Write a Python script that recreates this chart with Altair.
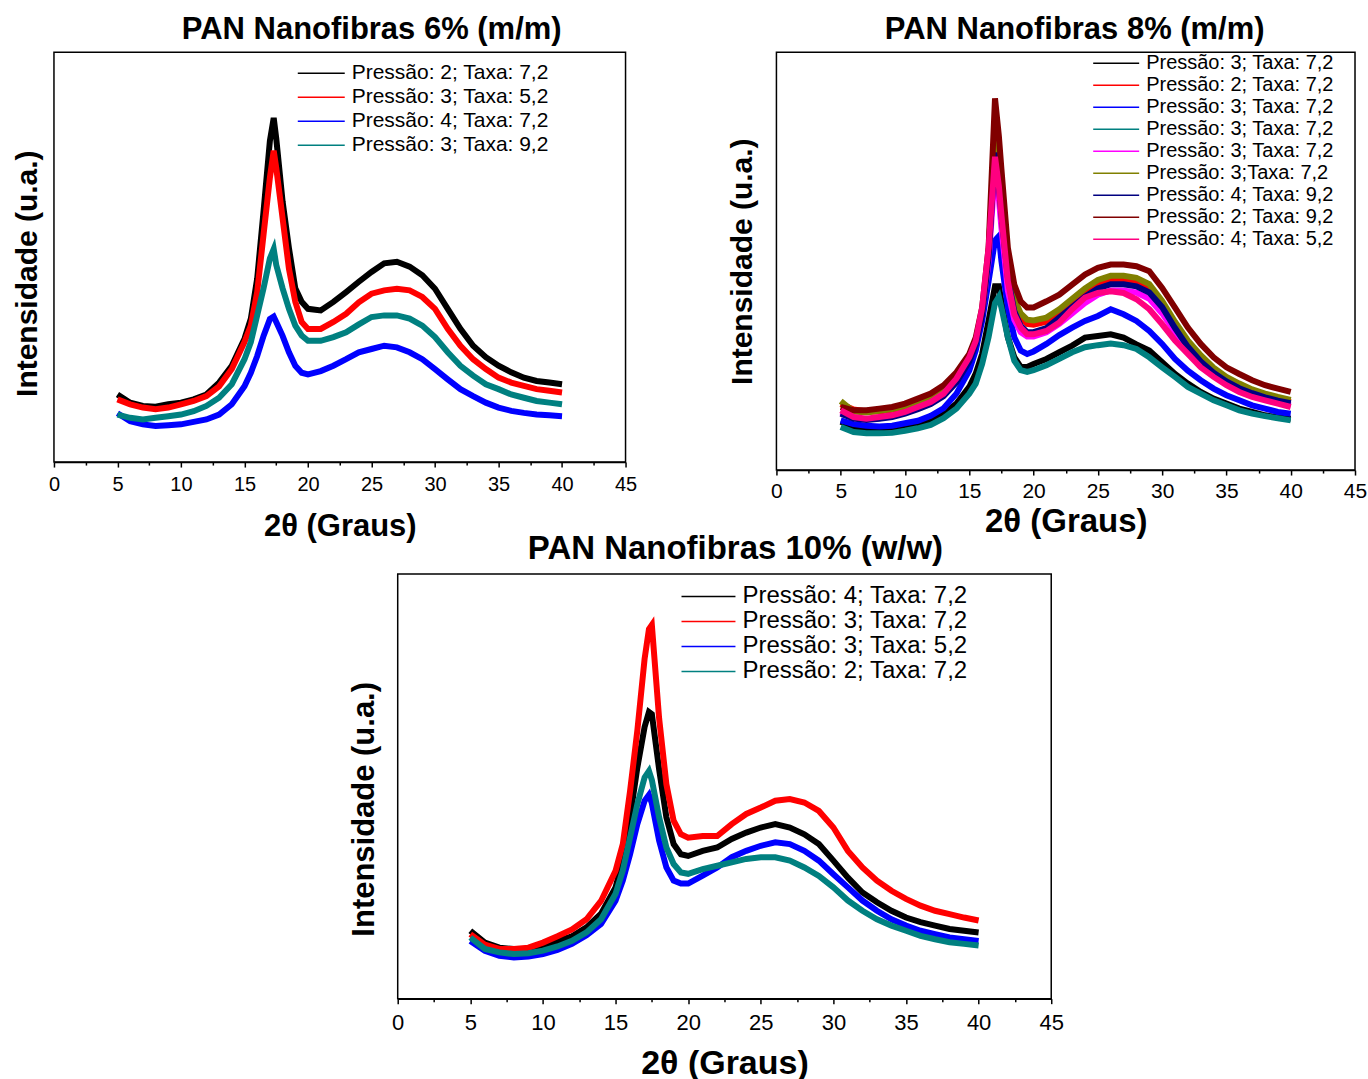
import json
import altair as alt
import pandas as pd

FONT = "Liberation Sans"

# 2-theta sampling positions (degrees)
X = [5, 6, 7, 8, 9, 10, 11, 12, 13, 14, 15,
     15.5, 16, 16.5, 17, 17.3, 17.5, 18, 18.5, 19, 19.5, 20,
     21, 22, 23, 24, 25, 26, 27, 28, 29, 30, 31, 32, 33, 34, 35, 36, 37, 38, 39, 40]

X_TICKS = [0, 2.5, 5, 7.5, 10, 12.5, 15, 17.5, 20, 22.5, 25, 27.5, 30, 32.5, 35, 37.5, 40, 42.5, 45]

# ---------------- Panel 1: 6% ----------------
P1_TITLE = "PAN Nanofibras 6% (m/m)"
P1_LABELS = ["Pressão: 2; Taxa: 7,2", "Pressão: 3; Taxa: 5,2",
             "Pressão: 4; Taxa: 7,2", "Pressão: 3; Taxa: 9,2"]
P1_COLORS = ["#000000", "#ff0000", "#0000ff", "#008080"]
P1_BLACK = [16.5, 14.5, 13.7, 13.5, 14.1, 14.5, 15.3, 16.5, 19.4, 23.5, 30.1,
            35.0, 44.8, 61.2, 78.4, 84.0, 79.0, 63.6, 52.2, 42.4, 39.1, 37.4,
            37.0, 39.1, 41.5, 44.0, 46.4, 48.5, 48.9, 47.7, 45.6, 42.3, 37.4, 32.5, 28.4, 25.6, 23.5, 21.9, 20.6, 19.8, 19.4, 19.0]
P1_RED = [15.3, 14.1, 13.3, 12.9, 13.3, 14.1, 14.9, 16.1, 18.5, 22.7, 29.3,
          33.3, 41.5, 55.5, 69.4, 76.0, 71.8, 59.5, 47.2, 39.1, 34.2, 32.5,
          32.5, 34.2, 36.2, 39.0, 41.1, 41.9, 42.3, 41.9, 40.3, 37.4, 32.5, 28.4, 25.1, 22.7, 20.6, 19.4, 18.6, 17.8, 17.4, 17.0]
P1_BLUE = [11.9, 10.0, 9.2, 8.8, 9.0, 9.2, 9.8, 10.4, 11.6, 14.1, 18.5,
           21.8, 25.9, 30.8, 34.9, 35.5, 34.2, 30.8, 26.8, 23.5, 21.8, 21.4,
           22.2, 23.5, 25.1, 26.8, 27.6, 28.4, 28.0, 26.8, 25.1, 22.7, 20.2, 17.8, 16.1, 14.5, 13.3, 12.5, 12.0, 11.6, 11.4, 11.2]
P1_TEAL = [11.6, 10.8, 10.4, 10.8, 11.2, 11.6, 12.4, 13.7, 15.7, 19.0, 25.1,
           29.3, 35.8, 42.4, 49.7, 52.0, 48.1, 42.4, 37.4, 33.3, 30.9, 29.6,
           29.6, 30.5, 31.7, 33.6, 35.4, 35.8, 35.8, 35.0, 33.3, 30.5, 26.8, 23.5, 21.1, 19.0, 17.8, 16.5, 15.7, 14.9, 14.5, 14.1]

# ---------------- Panel 2: 8% ----------------
P2_TITLE = "PAN Nanofibras 8% (m/m)"
P2_LABELS = ["Pressão: 3; Taxa: 7,2", "Pressão: 2; Taxa: 7,2", "Pressão: 3; Taxa: 7,2",
             "Pressão: 3; Taxa: 7,2", "Pressão: 3; Taxa: 7,2", "Pressão: 3;Taxa: 7,2",
             "Pressão: 4; Taxa: 9,2", "Pressão: 2; Taxa: 9,2", "Pressão: 4; Taxa: 5,2"]
P2_COLORS = ["#000000", "#ff0000", "#0000ff", "#008080", "#ff00ff",
             "#808000", "#000080", "#800000", "#ff0080"]
P2_BLACK = [11.6, 10.4, 10.0, 10.0, 10.2, 10.5, 11.2, 12.0, 13.5, 15.9, 19.9,
            23.1, 27.8, 35.7, 44.0, 44.0, 40.4, 31.8, 27.0, 24.7, 24.7, 25.4,
            26.6, 28.2, 29.8, 31.7, 32.1, 32.5, 31.7, 30.1, 28.6, 25.8, 23.0, 20.7, 18.7, 17.1, 15.9, 14.7, 13.9, 13.1, 12.6, 12.3]
P2_RED = [15.8, 14.5, 14.0, 14.0, 14.4, 15.0, 16.2, 17.4, 19.3, 22.5, 27.0,
          30.8, 37.5, 51.5, 80.0, 72.0, 65.0, 48.5, 40.0, 36.5, 35.0, 34.8,
          35.5, 37.5, 40.0, 42.5, 44.5, 45.5, 45.5, 45.0, 43.5, 39.5, 34.5, 30.0, 26.5, 23.7, 21.6, 20.0, 18.8, 17.8, 17.0, 16.3]
P2_BLUE = [11.9, 11.0, 10.6, 10.4, 10.6, 11.2, 11.8, 13.0, 14.8, 18.3, 23.8,
           28.6, 35.7, 45.2, 55.0, 56.0, 50.0, 38.9, 31.8, 28.6, 27.8, 28.4,
           30.2, 32.3, 34.1, 35.7, 36.9, 38.5, 37.3, 35.7, 33.3, 30.2, 26.6, 23.8, 21.5, 19.5, 17.9, 16.7, 15.5, 14.7, 13.9, 13.5]
P2_TEAL = [10.3, 9.1, 8.8, 8.8, 8.9, 9.4, 10.0, 10.8, 12.4, 14.7, 18.3,
           20.7, 25.4, 31.8, 40.0, 41.5, 38.9, 31.8, 26.2, 23.9, 23.5, 23.9,
           25.1, 26.6, 28.2, 29.4, 29.9, 30.3, 29.9, 29.0, 27.0, 24.6, 22.3, 19.9, 18.3, 16.7, 15.5, 14.3, 13.5, 12.9, 12.4, 11.9]
P2_MAGENTA = [13.8, 12.5, 12.1, 12.4, 12.9, 13.7, 14.8, 16.0, 18.0, 21.5, 26.5,
              30.5, 37.5, 50.0, 72.0, 65.0, 58.0, 43.0, 36.0, 33.0, 32.0, 32.0,
              33.0, 35.0, 37.5, 40.0, 42.0, 43.0, 43.0, 42.5, 41.0, 37.5, 33.0, 29.0, 25.5, 23.0, 21.0, 19.3, 18.0, 17.0, 16.2, 15.5]
P2_OLIVE = [16.5, 14.0, 13.8, 14.2, 14.6, 15.3, 16.5, 17.7, 19.7, 22.8, 27.3,
            31.0, 38.0, 52.0, 80.0, 72.0, 65.0, 50.0, 41.0, 37.5, 36.0, 35.8,
            36.5, 38.5, 41.0, 43.5, 45.5, 46.5, 46.5, 46.0, 44.5, 40.5, 35.5, 31.0, 27.5, 24.5, 22.3, 20.7, 19.3, 18.3, 17.5, 16.8]
P2_NAVY = [13.5, 12.3, 12.0, 12.3, 12.7, 13.5, 14.6, 15.8, 17.7, 21.0, 26.0,
           30.0, 37.0, 51.0, 76.0, 68.0, 61.0, 46.0, 38.0, 34.5, 33.0, 33.0,
           34.0, 36.5, 39.0, 41.5, 43.5, 44.5, 44.5, 44.0, 42.5, 39.0, 34.0, 29.5, 26.0, 23.3, 21.2, 19.6, 18.4, 17.4, 16.6, 16.0]
P2_DARKRED = [15.1, 14.3, 14.3, 14.7, 15.1, 15.9, 17.1, 18.3, 20.3, 23.4, 27.8,
              31.7, 38.9, 53.2, 89.0, 80.0, 72.0, 53.2, 44.4, 40.4, 38.9, 38.9,
              40.4, 42.0, 44.4, 46.8, 48.4, 49.2, 49.2, 48.8, 47.6, 43.6, 38.9, 34.1, 30.2, 27.0, 24.6, 23.0, 21.5, 20.3, 19.5, 18.7]
P2_PINK = [14.3, 12.7, 12.3, 12.7, 13.1, 13.9, 15.1, 16.3, 18.3, 21.9, 27.0,
           30.9, 38.9, 53.2, 75.0, 68.0, 61.0, 45.2, 37.3, 34.1, 32.5, 32.5,
           33.3, 35.3, 38.5, 41.3, 42.4, 42.8, 42.4, 40.9, 38.5, 34.9, 31.0, 27.8, 24.6, 22.3, 20.3, 18.7, 17.5, 16.7, 15.9, 15.1]

# ---------------- Panel 3: 10% ----------------
P3_TITLE = "PAN Nanofibras 10% (w/w)"
P3_LABELS = ["Pressão: 4; Taxa: 7,2", "Pressão: 3; Taxa: 7,2",
             "Pressão: 3; Taxa: 5,2", "Pressão: 2; Taxa: 7,2"]
P3_COLORS = ["#000000", "#ff0000", "#0000ff", "#008080"]
P3_BLACK = [16.0, 13.2, 12.0, 11.7, 11.7, 12.5, 13.6, 14.7, 16.8, 20.0, 26.2,
            32.5, 42.7, 54.4, 64.0, 67.5, 67.0, 54.0, 42.7, 36.4, 34.0, 33.6,
            34.8, 35.6, 37.6, 39.1, 40.3, 41.1, 40.3, 38.7, 36.4, 32.5, 28.5, 25.0, 22.7, 20.7, 19.1, 18.0, 17.2, 16.4, 16.0, 15.6]
P3_RED = [15.2, 12.7, 11.7, 11.7, 12.0, 13.2, 14.7, 16.3, 18.7, 23.0, 30.1,
          36.4, 48.9, 63.1, 80.0, 87.0, 88.0, 66.0, 50.5, 41.9, 38.7, 37.9,
          38.3, 38.3, 41.1, 43.5, 45.0, 46.6, 47.0, 46.2, 44.2, 40.3, 34.8, 30.9, 27.8, 25.4, 23.5, 21.9, 20.7, 19.9, 19.1, 18.4]
P3_BLUE = [13.6, 11.3, 10.1, 9.7, 9.9, 10.5, 11.5, 12.9, 14.9, 17.6, 23.1,
           27.8, 34.0, 41.1, 46.6, 48.0, 46.0, 37.2, 30.9, 27.8, 27.1, 27.1,
           29.0, 30.9, 33.3, 34.8, 36.0, 36.8, 36.4, 34.8, 32.5, 29.3, 26.2, 23.1, 20.7, 18.7, 17.2, 16.0, 15.2, 14.4, 14.0, 13.6]
P3_TEAL = [14.4, 11.7, 10.9, 10.5, 10.7, 11.3, 12.3, 13.6, 15.6, 18.7, 24.7,
           30.2, 38.0, 45.8, 52.1, 53.6, 51.5, 42.7, 35.6, 31.7, 29.7, 29.4,
           30.5, 31.3, 32.1, 32.9, 33.3, 33.3, 32.5, 30.9, 28.9, 26.2, 23.1, 20.7, 18.7, 17.2, 16.0, 14.8, 14.0, 13.3, 12.9, 12.5]


def panel(series, labels, colors, title, w, h, title_size, title_dx, title_offset,
          ytitle_size, ytitle_pad, ytitle_y, xtitle_size, xtitle_pad,
          tick_font, label_pad, legend_x, legend_y, legend_font, legend_row,
          sym_len, line_w):
    rows = []
    for k, ys in enumerate(series):
        for x, y in zip(X, ys):
            rows.append({"x": x, "y": y, "k": k})
    df = pd.DataFrame(rows)
    label_expr = json.dumps(labels, ensure_ascii=False) + "[datum.value]"
    yaxis_kw = dict(title="Intensidade (u.a.)", labels=False, ticks=False, domain=False,
                    grid=False, titleFont=FONT, titleFontSize=ytitle_size,
                    titleFontWeight="bold", titleColor="black", titlePadding=ytitle_pad)
    if ytitle_y is not None:
        yaxis_kw["titleY"] = ytitle_y
    return alt.Chart(df, title=alt.TitleParams(
        title, fontSize=title_size, font=FONT, fontWeight="bold", color="black",
        anchor="middle", dx=title_dx, offset=title_offset)).mark_line(
        strokeWidth=line_w, clip=True).encode(
        x=alt.X("x:Q", scale=alt.Scale(domain=[0, 45], nice=False, zero=False),
                axis=alt.Axis(title="2θ (Graus)", values=X_TICKS,
                              labelExpr="datum.value % 5 === 0 ? datum.label : ''",
                              tickSize={"condition": {"test": "datum.value % 5 === 0", "value": 5}, "value": 3},
                              tickWidth=1.5, tickColor="black", domainColor="black", domainWidth=1.5,
                              grid=False, labelFont=FONT, labelFontSize=tick_font, labelColor="black",
                              labelPadding=label_pad, labelFlush=False, labelOverlap=False,
                              titleFont=FONT, titleFontSize=xtitle_size, titleFontWeight="bold",
                              titleColor="black", titlePadding=xtitle_pad)),
        y=alt.Y("y:Q", scale=alt.Scale(domain=[0, 100], nice=False), axis=alt.Axis(**yaxis_kw)),
        color=alt.Color("k:N", scale=alt.Scale(domain=list(range(len(series))), range=colors),
                        legend=alt.Legend(title=None, orient="none", legendX=legend_x, legendY=legend_y,
                                          labelExpr=label_expr, labelFont=FONT, labelFontSize=legend_font,
                                          labelColor="black", labelLimit=500, labelOffset=6,
                                          symbolType="stroke", symbolSize=sym_len * sym_len,
                                          symbolStrokeWidth=1.5, clipHeight=legend_row, rowPadding=0,
                                          padding=0)),
    ).properties(width=w, height=h)


p1 = panel([P1_BLACK, P1_RED, P1_BLUE, P1_TEAL], P1_LABELS, P1_COLORS, P1_TITLE,
           572, 410, 31, 32, 6, 30, 11, 221, 31, 17, 20, 7, 243, 9, 21, 24, 47, 6)
p2 = panel([P2_BLACK, P2_RED, P2_BLUE, P2_TEAL, P2_MAGENTA, P2_OLIVE, P2_NAVY, P2_DARKRED, P2_PINK],
           P2_LABELS, P2_COLORS, P2_TITLE,
           579, 418, 31, 9, 6, 30, 19, None, 33, 4, 21, 5, 316, 0, 20, 22, 46, 6)
p3 = panel([P3_BLACK, P3_RED, P3_BLUE, P3_TEAL], P3_LABELS, P3_COLORS, P3_TITLE,
           654, 425, 33, 11, 8, 31, 17, 235, 34, 13, 22, 9, 283, 10, 24, 25, 54, 6)

spacer = alt.Chart(pd.DataFrame({"a": [0]})).mark_point(opacity=0).encode(
    x=alt.X("a:Q", axis=None), y=alt.Y("a:Q", axis=None)
).properties(width=344, height=10, view=alt.ViewBackground(strokeOpacity=0))

row1 = alt.hconcat(p1, p2, spacing=151, bounds="flush").resolve_scale(
    color="independent").resolve_legend(color="independent")
row2 = alt.hconcat(spacer, p3, spacing=0, bounds="flush").resolve_scale(
    color="independent").resolve_legend(color="independent")

chart = alt.vconcat(row1, row2, spacing=-10).resolve_scale(
    color="independent").resolve_legend(color="independent").properties(
    padding={"left": 12, "top": 13, "right": 0, "bottom": 0},
    background="white",
).configure_view(stroke="black", strokeWidth=1.5)

chart.save("out.html", embed_options={"renderer": "svg", "actions": False})
